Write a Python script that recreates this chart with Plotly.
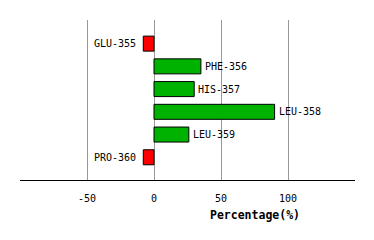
import plotly.graph_objects as go

residues = ["GLU-355", "PHE-356", "HIS-357", "LEU-358", "LEU-359", "PRO-360"]
values = [-8, 35, 30, 90, 26, -8]
tick_vals = [-50, 0, 50, 100]
tick_text = ["-50", "0", "50", "100"]

colors = ["#ff0000" if v < 0 else "#00b200" for v in values]
idx = list(range(len(residues)))

fig = go.Figure()
fig.add_trace(go.Bar(
    x=values, y=idx, orientation="h",
    marker=dict(color=colors, line=dict(color="black", width=1)),
    width=0.66, hoverinfo="skip",
))

font = dict(family="DejaVu Sans Mono", size=10, color="black")
for i, (r, v) in enumerate(zip(residues, values)):
    fig.add_annotation(
        x=v, y=i, text=r, showarrow=False, font=font,
        xanchor="left" if v >= 0 else "right",
        xshift=2 if v >= 0 else -5, yanchor="middle",
    )

fig.add_annotation(
    x=(255 - 20) / 335, y=(180 - 215) / 160, xref="x domain", yref="y domain",
    text="<b>Percentage(%)</b>", showarrow=False,
    xanchor="center", yanchor="middle",
    font=dict(family="DejaVu Sans Mono", size=11.5, color="black"),
)

fig.update_layout(
    width=374, height=240,
    margin=dict(l=20, r=19, t=20, b=60),
    plot_bgcolor="white", paper_bgcolor="white",
    showlegend=False,
    xaxis=dict(
        range=[-100, 150], tickvals=tick_vals, ticktext=tick_text,
        showgrid=True, gridcolor="#999999", gridwidth=1,
        zeroline=False, showline=True, linecolor="black", linewidth=1,
        ticks="", tickfont=font, ticklabelstandoff=9, fixedrange=True,
    ),
    yaxis=dict(
        range=[6, -1.04], showticklabels=False, showgrid=False,
        zeroline=False, showline=False, fixedrange=True,
    ),
)

fig.write_html("out.html")
